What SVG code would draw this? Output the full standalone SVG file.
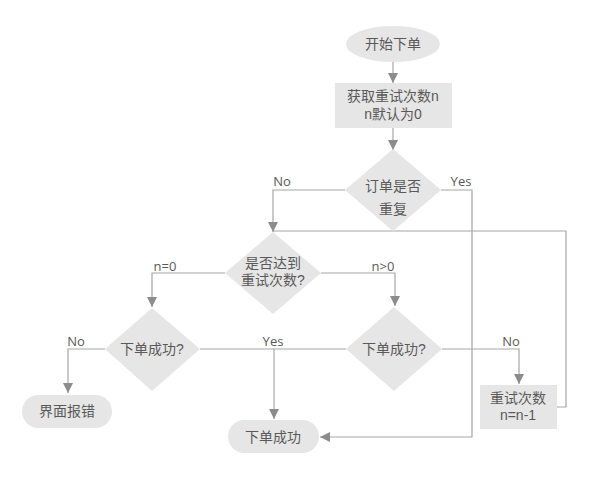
<svg xmlns="http://www.w3.org/2000/svg" width="597" height="478" viewBox="0 0 597 478">
<defs>
<style>
.shape{fill:#e6e6e6;stroke:none}
.t{font-family:"Liberation Sans","Noto Sans CJK SC",sans-serif;font-size:14px;fill:#595959;text-anchor:middle}
.lbl{font-family:"Open Sans","Noto Sans",sans-serif;font-size:13px;fill:#595959;text-anchor:middle}
.ln{fill:none;stroke:#a6a6a6;stroke-width:1.2}
</style>
<marker id="ah" viewBox="0 0 10 10" refX="10" refY="5" markerWidth="10" markerHeight="10" markerUnits="userSpaceOnUse" orient="auto">
<path d="M0,0 L10,5 L0,10 Z" fill="#8c8c8c"/>
</marker>
</defs>
<rect width="597" height="478" fill="#ffffff"/>
<g id="connectors">
<path class="ln" d="M393,62 V83" marker-end="url(#ah)"/>
<path class="ln" d="M393,128 V150" marker-end="url(#ah)"/>
<path class="ln" d="M345,190 H273 V232" marker-end="url(#ah)"/>
<path class="ln" d="M441,190 H472 V437 H320" marker-end="url(#ah)"/>
<path class="ln" d="M557,407 H566 V231 H273"/>
<path class="ln" d="M225,273 H152 V307" marker-end="url(#ah)"/>
<path class="ln" d="M321,273 H395 V306" marker-end="url(#ah)"/>
<path class="ln" d="M105,349 H68 V393" marker-end="url(#ah)"/>
<path class="ln" d="M200,349 H346"/>
<path class="ln" d="M274,349 V419" marker-end="url(#ah)"/>
<path class="ln" d="M442,349 H519 V384" marker-end="url(#ah)"/>
<text class="lbl" x="282" y="186">No</text>
<text class="lbl" x="461" y="186">Yes</text>
<text class="lbl" x="165" y="271">n=0</text>
<text class="lbl" x="383" y="271">n&gt;0</text>
<text class="lbl" x="76" y="346">No</text>
<text class="lbl" x="273" y="346">Yes</text>
<text class="lbl" x="511" y="346">No</text>
</g>
<g id="start">
<ellipse class="shape" cx="393" cy="44" rx="47" ry="18"/>
<text class="t" x="393" y="49">开始下单</text>
</g>
<g id="getRetry">
<rect class="shape" x="335" y="83" width="117" height="45"/>
<text class="t" x="393" y="101">获取重试次数n</text>
<text class="t" x="393" y="119">n默认为0</text>
</g>
<g id="dup">
<polygon class="shape" points="393,149 441,190 393,231 345,190"/>
<text class="t" x="393" y="191">订单是否</text>
<text class="t" x="393" y="214">重复</text>
</g>
<g id="reach">
<polygon class="shape" points="273,232 321,273 273,314 225,273"/>
<text class="t" x="273" y="268">是否达到</text>
<text class="t" x="273" y="285">重试次数?</text>
</g>
<g id="succ1">
<polygon class="shape" points="152,308 200,349 152,391 105,349"/>
<text class="t" x="152" y="354">下单成功?</text>
</g>
<g id="succ2">
<polygon class="shape" points="394,307 442,349 394,391 346,349"/>
<text class="t" x="394" y="354">下单成功?</text>
</g>
<g id="error">
<rect class="shape" x="22" y="395" width="90" height="33" rx="16.5"/>
<text class="t" x="67" y="416">界面报错</text>
</g>
<g id="done">
<rect class="shape" x="228" y="420" width="91" height="33" rx="16.5"/>
<text class="t" x="273" y="442">下单成功</text>
</g>
<g id="retry">
<rect class="shape" x="480" y="385" width="77" height="44"/>
<text class="t" x="518" y="403">重试次数</text>
<text class="t" x="518" y="420">n=n-1</text>
</g>
</svg>
